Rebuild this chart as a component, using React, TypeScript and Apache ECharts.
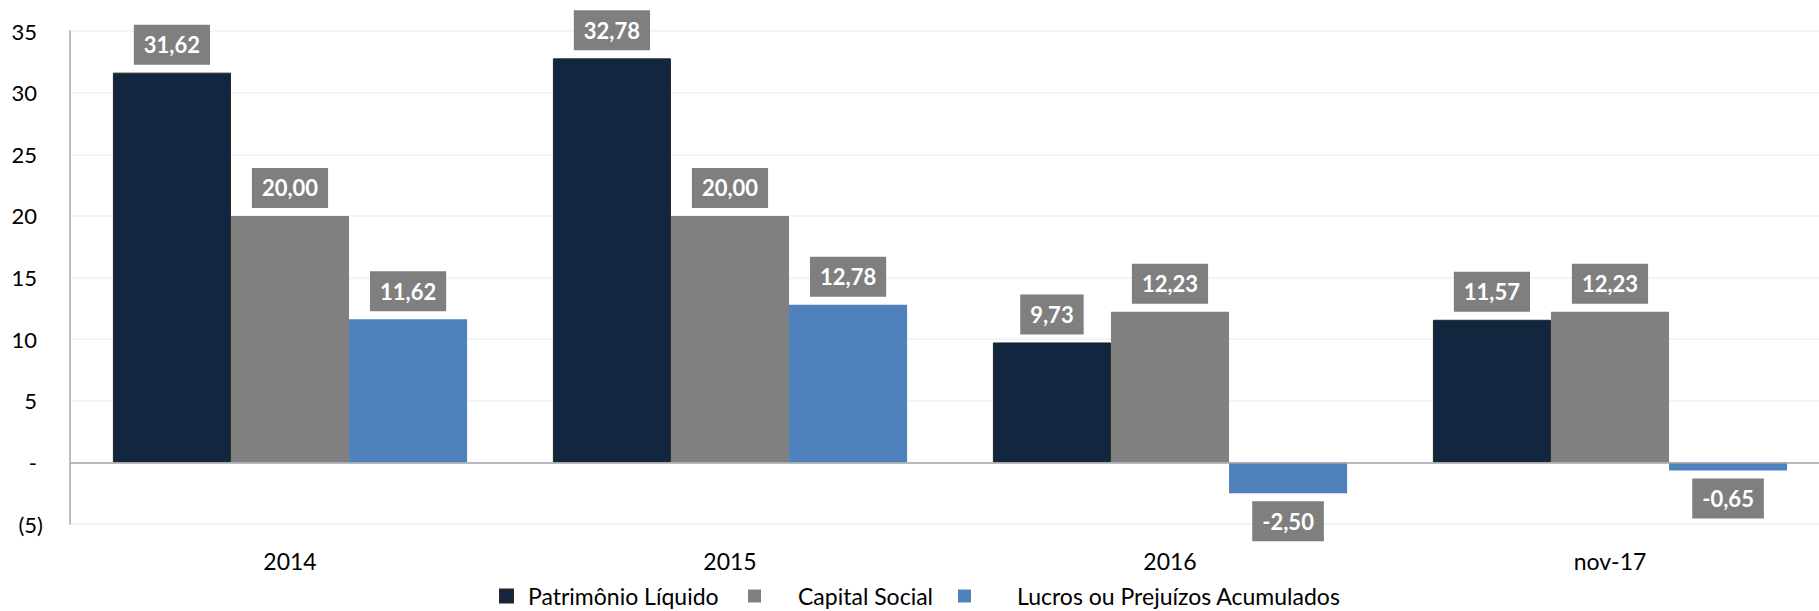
import React, { useEffect, useRef } from "react";
import * as echarts from "echarts";

const categories = ["2014", "2015", "2016", "nov-17"];
const patrimonio = [31.62, 32.78, 9.73, 11.57];
const capital = [20.0, 20.0, 12.23, 12.23];
const lucros = [11.62, 12.78, -2.5, -0.65];
const seriesNames = ["Patrimônio Líquido", "Capital Social", "Lucros ou Prejuízos Acumulados"];
const colors = ["#12263f", "#808080", "#4f81bd"];

const FONT = "Lato";

const fmt = (v: number) => v.toFixed(2).replace(".", ",");

function makeData(values: number[]) {
  return values.map((v) => ({
    value: v,
    label: { position: v < 0 ? "bottom" : "top" },
  }));
}

export default function App() {
  const ref = useRef<HTMLDivElement>(null);
  useEffect(() => {
    if (!ref.current) return;
    const chart = echarts.init(ref.current, undefined, { renderer: "svg" });
    const label = {
      show: true,
      distance: 8,
      formatter: (p: any) => fmt(p.value),
      color: "#ffffff",
      fontFamily: FONT,
      fontWeight: "bold",
      fontSize: 22,
      lineHeight: 24,
      backgroundColor: "#7f7f7f",
      padding: [8, 10, 8, 10],
    };
    const allValues = [patrimonio, capital, lucros];
    const legendLefts = [499, 748, 958];
    const legendPads = [10, 32, 41];
    chart.setOption({
      animation: false,
      grid: {
        left: 70,
        width: 1760,
        top: 31,
        bottom: 87,
        containLabel: false,
        outerBoundsMode: "none",
      },
      legend: seriesNames.map((n, i) => ({
        data: [n],
        left: legendLefts[i],
        top: 584,
        padding: 0,
        itemWidth: 13,
        itemHeight: 13,
        icon: "rect",
        selectedMode: false,
        textStyle: {
          fontFamily: FONT,
          fontSize: 23,
          lineHeight: 24,
          color: "#000",
          padding: [0, 0, 0, legendPads[i]],
        },
      })),
      xAxis: {
        type: "category",
        data: categories,
        axisLine: { show: false },
        axisTick: { show: false },
        axisLabel: {
          margin: 25,
          fontFamily: FONT,
          fontSize: 23,
          color: "#000",
        },
      },
      yAxis: {
        type: "value",
        min: -5,
        max: 35,
        interval: 5,
        axisLine: { show: true, lineStyle: { color: "#a6a6a6", width: 1.5 } },
        axisTick: { show: false },
        splitLine: { lineStyle: { color: "#edf1f7", width: 1.5 } },
        axisLabel: {
          margin: 27,
          fontFamily: FONT,
          fontSize: 22,
          color: "#000",
          formatter: (v: number) => {
            if (v === 0) return "{p|-}";
            if (v < 0) return "{n|(" + Math.abs(v) + ")}";
            return "{p|" + v + "}";
          },
          rich: {
            p: { fontFamily: FONT, fontSize: 22, color: "#000", padding: [0, 6, 0, 0] },
            n: { fontFamily: FONT, fontSize: 22, color: "#000" },
          },
        },
      },
      series: seriesNames.map((n, i) => ({
        name: n,
        type: "bar",
        data: makeData(allValues[i]),
        barGap: "0%",
        barCategoryGap: "19.5%",
        itemStyle: {
          color: colors[i],
          borderColor: i === 0 ? "#262626" : colors[i],
          borderWidth: i === 0 ? 1 : 0,
        },
        label,
        ...(i === 0
          ? {
              markLine: {
                silent: true,
                symbol: "none",
                label: { show: false },
                lineStyle: { color: "#a6a6a6", width: 1.5, type: "solid" },
                data: [{ yAxis: 0 }],
              },
            }
          : {}),
      })),
    });
    return () => chart.dispose();
  }, []);
  return (
    <div
      ref={ref}
      style={{ position: "absolute", left: 0, top: 0, width: 1819, height: 611 }}
    />
  );
}
